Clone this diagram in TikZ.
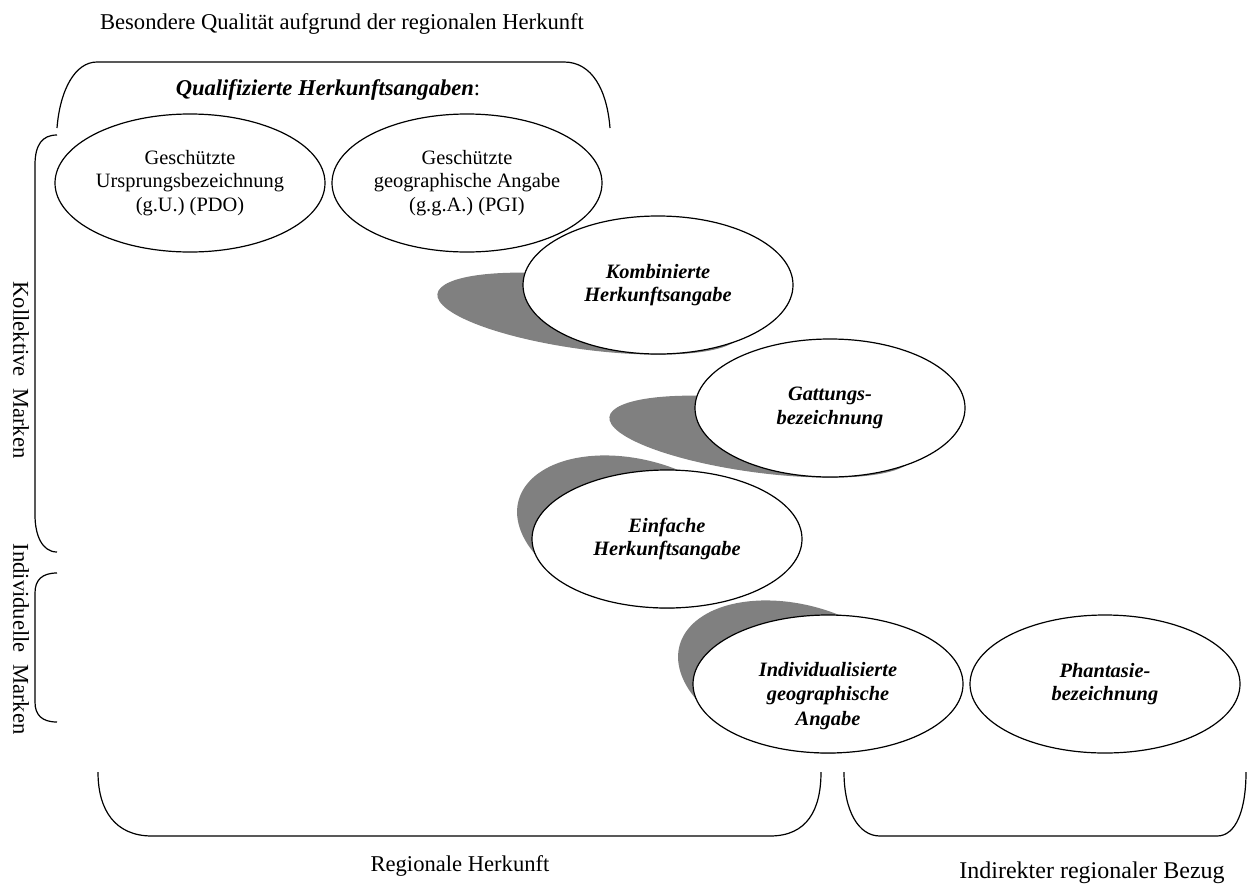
\documentclass[tikz,border=0pt]{standalone}
\usepackage{fontspec}
\setmainfont{Liberation Serif}
\usepackage{tikz}
\usetikzlibrary{shapes.geometric}
\usetikzlibrary{backgrounds}
\definecolor{shadowgray}{RGB}{128,128,128}
\tikzset{
oval/.style={ellipse, draw, fill=white, line width=1.2pt, inner sep=0pt,
  minimum width=270pt, minimum height=138pt, align=center,
  font=\fontsize{20.4}{23.5}\selectfont},
ovalbf/.style={oval, font=\fontsize{20.4}{23.5}\selectfont\bfseries\itshape},
ovaltext/.style={align=center, inner sep=0pt, font=\fontsize{20.4}{24.5}\selectfont\bfseries\itshape},
brace/.style={line width=1.2pt},
caption/.style={font=\fontsize{22.6}{26}\selectfont, inner sep=0pt},
flatshadow/.style={fill=shadowgray, cm={1,0,-1,0.594,(0,0)}},
tallshadow/.style={fill=shadowgray, cm={0.85,0,-0.45,1.11,(0,0)}}}

\begin{document}
\begin{tikzpicture}[x=1pt, y=-1pt]

                \useasboundingbox (0,0) rectangle (1250,884);

                % texts outside the ovals
                \node[caption, anchor=base] (besondere) at (342,29) {Besondere Qualität aufgrund der regionalen Herkunft};
                \node[caption, anchor=base] (qualif) at (328,95) {\textbf{\textit{Qualifizierte Herkunftsangaben}}:};
                \node[caption, rotate=-90] (kollektiv) at (21,370) {Kollektive\ \ Marken};
                \node[caption, rotate=-90] (individuell) at (21,639) {Individuelle\ \ Marken};
                \node[caption, anchor=base] (regional) at (460,871) {Regionale Herkunft};
                \node[caption, anchor=base, font=\fontsize{24}{28}\selectfont] (indirekt) at (1092,878) {Indirekter regionaler Bezug};

                % ovals
                \node[oval] (gu) at (190,183) {Geschützte\\Ursprungsbezeichnung\\(g.U.) (PDO)};
                \node[oval] (gga) at (467,183) {Geschützte\\geographische Angabe\\(g.g.A.) (PGI)};
                \node[ovalbf] (kombi) at (658,285) {Kombinierte\\Herkunftsangabe};
                \node[ovalbf] (gatt) at (830,408) {Gattungs-\\bezeichnung};
                \node[ovalbf] (einfach) at (667,539) {Einfache\\Herkunftsangabe};
                \node[ovalbf] (indiv) at (828,684) {};
                \node[ovaltext] (indivtext) at ([yshift=-12pt]indiv.center) {Individualisierte\\geographische\\Angabe};
                \node[ovalbf] (phant) at (1105,684) {Phantasie-\\bezeichnung};

                % shadows, sheared about the bottom of each oval
                \begin{scope}[on background layer]
                    \fill[shift={(kombi.south)}, flatshadow] (0,-69) ellipse [x radius=135, y radius=69];
                    \fill[shift={(gatt.south)}, flatshadow] (0,-69) ellipse [x radius=135, y radius=69];
                    \fill[shift={(einfach.south)}, tallshadow] (0,-69) ellipse [x radius=135, y radius=69];
                    \fill[shift={(indiv.south)}, tallshadow] (0,-69) ellipse [x radius=135, y radius=69];
                \end{scope}

                % braces
                \draw[brace] (57,128) .. controls (60,90) and (75,62) .. (97,62) -- (564,62) .. controls (592,62) and (607,90) .. (610,128);
                \draw[brace] (57,135) .. controls (42,135) and (35,145) .. (35,165) -- (35,515) .. controls (35,535) and (42,552) .. (57,552);
                \draw[brace] (57,573) .. controls (42,573) and (35,580) .. (35,593) -- (35,702) .. controls (35,715) and (42,722) .. (57,722);
                \draw[brace] (98,772) .. controls (98,810) and (115,836) .. (152,836) -- (770,836) .. controls (807,836) and (821,810) .. (821,772);
                \draw[brace] (844,772) .. controls (844,810) and (858,836) .. (880,836) -- (1217,836) .. controls (1236,836) and (1246,810) .. (1246,772);

            \end{tikzpicture}
\end{document}
